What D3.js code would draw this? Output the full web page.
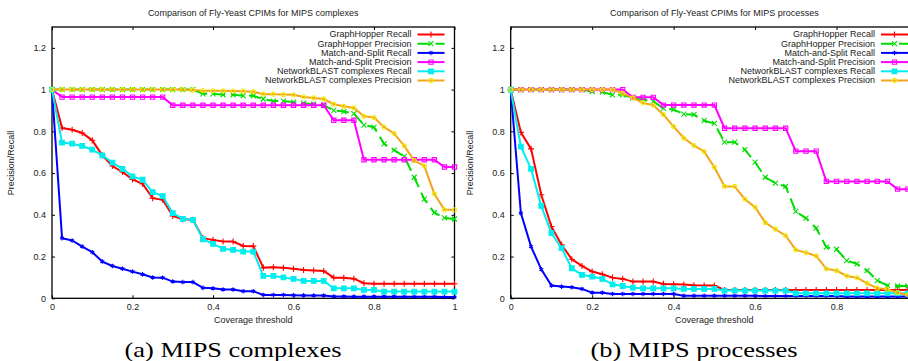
<!DOCTYPE html>
<html>
<head>
<meta charset="utf-8">
<script src="https://cdn.jsdelivr.net/npm/d3@7"></script>
<style>
  body { margin: 0; background: #fff; }
  svg { display: block; }
  text { font-family: "Liberation Sans", Arial, sans-serif; font-size: 9px; fill: #222; }
  .caption { font-family: "Liberation Serif", serif; font-size: 22px; fill: #000; }
</style>
</head>
<body>
<svg id="chart" width="908" height="361"></svg>
<script>
// coverage thresholds on the x axis
var thresholds = [0, 0.025, 0.05, 0.075, 0.1, 0.125, 0.15, 0.175, 0.2, 0.225, 0.25, 0.275, 0.3, 0.325,
  0.35, 0.375, 0.4, 0.425, 0.45, 0.475, 0.5, 0.525, 0.55, 0.575, 0.6, 0.625, 0.65, 0.675, 0.7, 0.725,
  0.75, 0.775, 0.8, 0.825, 0.85, 0.875, 0.9, 0.925, 0.95, 0.975, 1];

var xTicks = [0, 0.2, 0.4, 0.6, 0.8, 1];
var yTicks = [0, 0.2, 0.4, 0.6, 0.8, 1, 1.2];

var seriesNames = ["GraphHopper Recall", "GraphHopper Precision", "Match-and-Split Recall",
  "Match-and-Split Precision", "NetworkBLAST complexes Recall", "NetworkBLAST complexes Precision"];

// (a) MIPS complexes
var ghRecallA = [1, 0.816, 0.808, 0.792, 0.757, 0.685, 0.634, 0.605, 0.57, 0.549, 0.48, 0.472, 0.395, 0.379,
  0.376, 0.288, 0.28, 0.272, 0.272, 0.251, 0.25, 0.147, 0.149, 0.146, 0.142, 0.136, 0.133, 0.131, 0.099,
  0.098, 0.094, 0.072, 0.07, 0.07, 0.07, 0.07, 0.07, 0.07, 0.07, 0.07, 0.07];
var ghPrecA = [1, 1, 1, 1, 1, 1, 1, 1, 1, 1, 1, 1, 1, 1, 1, 0.98, 0.98, 0.975, 0.975, 0.97, 0.97,
  0.955, 0.945, 0.945, 0.94, 0.935, 0.93, 0.925, 0.9, 0.895, 0.885, 0.83, 0.82, 0.74, 0.71, 0.68,
  0.58, 0.475, 0.41, 0.385, 0.38];
var msRecallA = [1, 0.288, 0.277, 0.248, 0.221, 0.176, 0.155, 0.142, 0.128, 0.115, 0.1, 0.099, 0.08, 0.078,
  0.078, 0.05, 0.048, 0.042, 0.042, 0.034, 0.034, 0.016, 0.016, 0.016, 0.015, 0.014, 0.013, 0.013,
  0.009, 0.009, 0.008, 0.008, 0.008, 0.008, 0.008, 0.007, 0.007, 0.007, 0.007, 0.006, 0.006];
var msPrecA = [1, 0.964, 0.964, 0.964, 0.964, 0.964, 0.964, 0.964, 0.964, 0.964, 0.964, 0.964,
  0.925, 0.925, 0.925, 0.925, 0.925, 0.925, 0.925, 0.925, 0.925, 0.925, 0.925, 0.925, 0.925, 0.925,
  0.925, 0.925, 0.853, 0.853, 0.853, 0.664, 0.664, 0.664, 0.664, 0.664, 0.664, 0.664, 0.664, 0.629, 0.629];
var nbRecallA = [1, 0.746, 0.741, 0.73, 0.712, 0.685, 0.65, 0.62, 0.584, 0.568, 0.509, 0.49, 0.408, 0.381,
  0.376, 0.283, 0.261, 0.237, 0.232, 0.224, 0.224, 0.107, 0.107, 0.1, 0.093, 0.083, 0.083, 0.083,
  0.048, 0.048, 0.048, 0.04, 0.04, 0.032, 0.032, 0.032, 0.032, 0.032, 0.032, 0.032, 0.032];
var nbPrecA = [1, 1, 1, 1, 1, 1, 1, 1, 1, 1, 1, 1, 1, 1, 0.998, 0.995, 0.994, 0.994, 0.993, 0.992, 0.99,
  0.978, 0.978, 0.976, 0.975, 0.965, 0.96, 0.955, 0.93, 0.92, 0.912, 0.872, 0.866, 0.82, 0.79, 0.73,
  0.66, 0.634, 0.5, 0.424, 0.424];

// (b) MIPS processes
var ghRecallB = [1, 0.795, 0.716, 0.496, 0.344, 0.256, 0.187, 0.155, 0.128, 0.115, 0.099, 0.093, 0.08, 0.08,
  0.08, 0.069, 0.067, 0.066, 0.062, 0.061, 0.061, 0.04, 0.04, 0.04, 0.04, 0.04, 0.04, 0.04, 0.04, 0.04,
  0.04, 0.04, 0.04, 0.04, 0.04, 0.04, 0.04, 0.04, 0.04, 0.04, 0.04];
var ghPrecB = [1, 1, 1, 1, 1, 1, 1, 1, 0.99, 0.988, 0.975, 0.975, 0.96, 0.952, 0.944, 0.91, 0.904, 0.883,
  0.88, 0.851, 0.838, 0.748, 0.748, 0.712, 0.652, 0.58, 0.552, 0.536, 0.416, 0.384, 0.336, 0.245, 0.235,
  0.181, 0.165, 0.133, 0.085, 0.061, 0.059, 0.059, 0.059];
var msRecallB = [1, 0.408, 0.248, 0.139, 0.061, 0.056, 0.053, 0.045, 0.027, 0.027, 0.021, 0.021, 0.021,
  0.021, 0.021, 0.021, 0.021, 0.012, 0.012, 0.012, 0.012, 0.012, 0.012, 0.012, 0.012, 0.011, 0.011, 0.011,
  0.011, 0.011, 0.011, 0.011, 0.011, 0.009, 0.009, 0.009, 0.009, 0.009, 0.009, 0.009, 0.009];
var msPrecB = [1, 1, 1, 1, 1, 1, 1, 1, 1, 1, 1, 1, 0.963, 0.963, 0.963, 0.926, 0.926, 0.926, 0.926, 0.926,
  0.926, 0.815, 0.815, 0.815, 0.815, 0.815, 0.815, 0.815, 0.705, 0.705, 0.705, 0.56, 0.56, 0.56, 0.56,
  0.56, 0.56, 0.56, 0.523, 0.523, 0.523];
var nbRecallB = [1, 0.727, 0.62, 0.443, 0.312, 0.24, 0.144, 0.112, 0.104, 0.093, 0.067, 0.059, 0.051, 0.048,
  0.048, 0.048, 0.048, 0.045, 0.045, 0.045, 0.045, 0.037, 0.037, 0.037, 0.037, 0.037, 0.037, 0.037,
  0.024, 0.024, 0.024, 0.024, 0.024, 0.024, 0.024, 0.024, 0.024, 0.024, 0.024, 0.024, 0.024];
var nbPrecB = [1, 1, 1, 1, 1, 1, 1, 1, 1, 1, 1, 0.982, 0.96, 0.936, 0.926, 0.88, 0.823, 0.768, 0.732, 0.703,
  0.628, 0.536, 0.536, 0.475, 0.437, 0.363, 0.331, 0.3, 0.232, 0.219, 0.203, 0.141, 0.133, 0.107, 0.099,
  0.072, 0.048, 0.043, 0.027, 0.016, 0.015];

// gnuplot-like line styles, in plotting order
var styles = [
  {color: "#ff0000", symbol: d3.symbolPlus, size: 14, fill: "none"},
  {color: "#00dd00", symbol: d3.symbolTimes, size: 18, fill: "none", dash: "12,6"},
  {color: "#0000ff", symbol: d3.symbolAsterisk, size: 14, fill: "none"},
  {color: "#ff00ff", symbol: d3.symbolSquare, size: 18, fill: "none"},
  {color: "#00eeee", symbol: d3.symbolSquare, size: 22, fill: "#00eeee"},
  {color: "#f4a41c", symbol: d3.symbolCircle, size: 14, fill: "none", marker: "#eeee00"}
];

var pageWidth = 908;
var svg = d3.select("#chart");

function drawPanel(p, series) {
  var x = d3.scaleLinear().domain([0, 1]).range([p.left, p.right]);
  var y = d3.scaleLinear().domain([0, 1.3]).range([p.bottom, p.top]);

  var g = svg.append("g");

  g.append("text")
    .attr("x", (p.left + p.right) / 2)
    .attr("y", 16)
    .attr("text-anchor", "middle")
    .text(p.title);

  // axes with inward ticks, mirrored on top and right
  var fmt = d3.format("");
  g.append("g")
    .attr("transform", "translate(" + p.left + ",0)")
    .call(d3.axisLeft(y).tickValues(yTicks).tickSize(-3).tickPadding(6).tickFormat(fmt));
  g.append("g")
    .attr("transform", "translate(" + p.right + ",0)")
    .call(d3.axisRight(y).tickValues(yTicks).tickSize(-3).tickFormat(""));
  g.append("g")
    .attr("transform", "translate(0," + p.bottom + ")")
    .call(d3.axisBottom(x).tickValues(xTicks.filter(function(d) { return x(d) < pageWidth; }))
      .tickSize(-3).tickPadding(5).tickFormat(fmt));
  g.append("g")
    .attr("transform", "translate(0," + p.top + ")")
    .call(d3.axisTop(x).tickValues(xTicks).tickSize(-3).tickFormat(""));
  g.selectAll(".domain").remove();
  g.selectAll(".tick line").attr("stroke", "#000");
  g.selectAll(".tick text").attr("fill", "#222").style("font-size", "9px");

  g.append("rect")
    .attr("x", p.left)
    .attr("y", p.top)
    .attr("width", p.right - p.left)
    .attr("height", p.bottom - p.top)
    .attr("fill", "none")
    .attr("stroke", "#000")
    .attr("stroke-width", 1.3);

  g.append("text")
    .attr("text-anchor", "middle")
    .attr("transform", "translate(" + p.ylabelX + ",163) rotate(-90)")
    .text("Precision/Recall");

  g.append("text")
    .attr("x", (p.left + p.right) / 2)
    .attr("y", 323)
    .attr("text-anchor", "middle")
    .text("Coverage threshold");

  var line = d3.line()
    .x(function(d, i) { return x(thresholds[i]); })
    .y(function(d) { return y(d); });

  series.forEach(function(values, k) {
    var s = styles[k];
    g.append("path")
      .datum(values)
      .attr("d", line)
      .attr("fill", "none")
      .attr("stroke", s.color)
      .attr("stroke-width", 2)
      .attr("stroke-dasharray", s.dash || null);

    g.selectAll(".m" + k)
      .data(values)
      .enter().append("path")
      .attr("class", "m" + k)
      .attr("transform", function(d, i) { return "translate(" + x(thresholds[i]) + "," + y(d) + ")"; })
      .attr("d", d3.symbol().type(s.symbol).size(s.size))
      .attr("fill", s.fill)
      .attr("stroke", s.marker || s.color)
      .attr("stroke-width", 1.1);

    // key entry
    var ky = 34.5 + k * 9.2;
    g.append("text")
      .attr("x", p.right - 43)
      .attr("y", ky)
      .attr("dy", "0.32em")
      .attr("text-anchor", "end")
      .text(seriesNames[k]);
    g.append("line")
      .attr("x1", p.right - 37)
      .attr("x2", p.right - 10)
      .attr("y1", ky)
      .attr("y2", ky)
      .attr("stroke", s.color)
      .attr("stroke-width", 2)
      .attr("stroke-dasharray", s.dash || null);
    g.append("path")
      .attr("transform", "translate(" + (p.right - 23.5) + "," + ky + ")")
      .attr("d", d3.symbol().type(s.symbol).size(s.size))
      .attr("fill", s.fill)
      .attr("stroke", s.marker || s.color)
      .attr("stroke-width", 1.1);
  });

  svg.append("text")
    .attr("class", "caption")
    .attr("x", p.captionX)
    .attr("y", 357)
    .attr("text-anchor", "middle")
    .attr("textLength", p.captionW)
    .attr("lengthAdjust", "spacingAndGlyphs")
    .text(p.caption);
}

drawPanel({left: 52, right: 454.5, top: 27, bottom: 298.3, ylabelX: 14,
  title: "Comparison of Fly-Yeast CPIMs for MIPS complexes",
  caption: "(a) MIPS complexes", captionX: 233, captionW: 217},
  [ghRecallA, ghPrecA, msRecallA, msPrecA, nbRecallA, nbPrecA]);

drawPanel({left: 510.7, right: 918, top: 27, bottom: 298.3, ylabelX: 473,
  title: "Comparison of Fly-Yeast CPIMs for MIPS processes",
  caption: "(b) MIPS processes", captionX: 694, captionW: 207},
  [ghRecallB, ghPrecB, msRecallB, msPrecB, nbRecallB, nbPrecB]);
</script>
</body>
</html>
